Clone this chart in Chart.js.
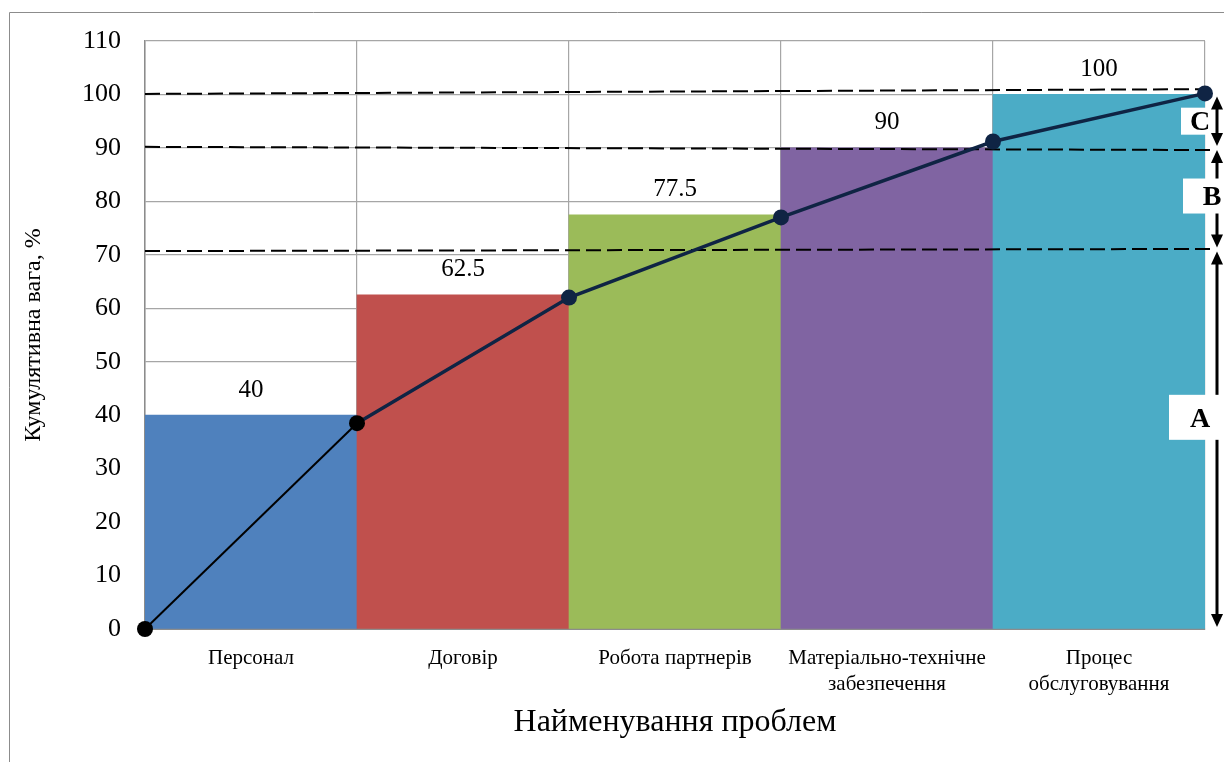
<!DOCTYPE html>
<html>
<head>
<meta charset="utf-8">
<script src="https://cdn.jsdelivr.net/npm/chart.js@4.4.1/dist/chart.umd.min.js"></script>
<style>
  body { margin: 0; background: #fff; }
</style>
</head>
<body>
<canvas id="pareto" width="1224" height="762"></canvas>
<script>
// categories and values
const categories = [
  'Персонал',
  'Договір',
  'Робота партнерів',
  ['Матеріально-технічне', 'забезпечення'],
  ['Процес', 'обслуговування']
];
const barValues = [40, 62.5, 77.5, 90, 100];
const barColors = ['#4F81BD', '#C0504D', '#9BBB59', '#8064A2', '#4BACC6'];

// cumulative curve, drawn at category boundaries 0..5
const curveX = [0, 1, 2, 3, 4, 5];
const curveY = [0, 38.5, 62, 77, 91.2, 100.2];

// hand drawn dashed borders of the A / B / C zones (start and end y)
const dashStartY = [100.1, 90.2, 70.7];
const dashEndY = [101, 89.6, 71.1];
const dashX = [0, 5.05];

// zones on the right side
const zoneTop = [100, 90, 71];
const zoneBottom = [90, 71, 0];
const zoneLabels = ['C', 'B', 'A'];
const zoneLabelY = [95, 81, 39.6];

const serif = "'Liberation Serif', 'DejaVu Serif', serif";

const framePlugin = {
  id: 'frame',
  beforeDraw(chart) {
    const ctx = chart.ctx;
    ctx.save();
    ctx.strokeStyle = '#8c8c8c';
    ctx.lineWidth = 1;
    ctx.beginPath();
    ctx.moveTo(9.5, 800);
    ctx.lineTo(9.5, 12.5);
    ctx.lineTo(1300, 12.5);
    ctx.stroke();
    ctx.restore();
  }
};

const valueLabels = {
  id: 'valueLabels',
  afterDatasetsDraw(chart) {
    const ctx = chart.ctx;
    const meta = chart.getDatasetMeta(0);
    ctx.save();
    ctx.font = '25px ' + serif;
    ctx.fillStyle = '#000';
    ctx.textAlign = 'center';
    ctx.textBaseline = 'middle';
    meta.data.forEach((bar, i) => {
      ctx.fillText(String(barValues[i]), bar.x, bar.y - 25);
    });
    ctx.restore();
  }
};

const zones = {
  id: 'zones',
  afterDraw(chart) {
    const ctx = chart.ctx;
    const y = chart.scales.y;
    const ax = 1217;
    ctx.save();
    ctx.fillStyle = '#000';
    ctx.strokeStyle = '#000';
    ctx.lineWidth = 3;
    zoneLabels.forEach((lab, i) => {
      const y0 = y.getPixelForValue(zoneTop[i]) + 2;
      const y1 = y.getPixelForValue(zoneBottom[i]) - 2;
      ctx.beginPath();
      ctx.moveTo(ax, y0 + 10);
      ctx.lineTo(ax, y1 - 10);
      ctx.stroke();
      // arrow heads
      ctx.beginPath();
      ctx.moveTo(ax, y0);
      ctx.lineTo(ax - 6, y0 + 13);
      ctx.lineTo(ax + 6, y0 + 13);
      ctx.closePath();
      ctx.fill();
      ctx.beginPath();
      ctx.moveTo(ax, y1);
      ctx.lineTo(ax - 6, y1 - 13);
      ctx.lineTo(ax + 6, y1 - 13);
      ctx.closePath();
      ctx.fill();
    });
    const boxes = [[1181, 30, 27], [1183, 41, 35], [1169, 55, 45]];
    ctx.font = 'bold 28px ' + serif;
    ctx.textAlign = 'center';
    ctx.textBaseline = 'middle';
    zoneLabels.forEach((lab, i) => {
      const cy = y.getPixelForValue(zoneLabelY[i]);
      const b = boxes[i];
      ctx.fillStyle = '#fff';
      ctx.fillRect(b[0], cy - b[2] / 2, b[1], b[2]);
      ctx.fillStyle = '#000';
      const tx = i === 1 ? 1212 : 1200;
      ctx.fillText(lab, tx, cy + 2);
    });
    ctx.restore();
  }
};

const dashSets = dashStartY.map((v, i) => ({
  type: 'line',
  xAxisID: 'x2',
  data: [{ x: dashX[0], y: v }, { x: dashX[1], y: dashEndY[i] }],
  borderColor: '#000',
  borderWidth: 2,
  borderDash: [15, 6],
  pointRadius: 0,
  clip: false,
  order: 1
}));

new Chart(document.getElementById('pareto'), {
  type: 'bar',
  data: {
    labels: categories,
    datasets: [
      {
        data: barValues,
        backgroundColor: barColors,
        barPercentage: 1,
        categoryPercentage: 1,
        grouped: false,
        order: 3
      },
      {
        type: 'line',
        xAxisID: 'x2',
        data: curveX.map((x, i) => ({ x: x, y: curveY[i] })),
        borderColor: '#0f2444',
        borderWidth: 3.5,
        segment: {
          borderColor: (c) => (c.p0DataIndex === 0 ? '#000' : '#0f2444'),
          borderWidth: (c) => (c.p0DataIndex === 0 ? 2 : 3.5)
        },
        pointRadius: 8,
        pointBackgroundColor: curveY.map((v, i) => (i < 2 ? '#000' : '#0f2444')),
        pointBorderWidth: 0,
        clip: false,
        order: 0
      },
      ...dashSets
    ]
  },
  options: {
    responsive: false,
    animation: false,
    devicePixelRatio: 1,
    layout: { padding: { left: 10, right: 19, top: 41, bottom: 8 } },
    plugins: {
      legend: { display: false },
      tooltip: { enabled: false }
    },
    scales: {
      x: {
        type: 'category',
        offset: true,
        grid: { offset: true, color: '#a6a6a6', lineWidth: 1.2, drawTicks: false },
        border: { color: '#8c8c8c', width: 2 },
        ticks: {
          color: '#000',
          font: { family: serif, size: 21, lineHeight: 1.25 },
          padding: 16,
          maxRotation: 0,
          autoSkip: false
        },
        title: {
          display: true,
          text: 'Найменування проблем',
          color: '#000',
          font: { family: serif, size: 32 },
          padding: { top: 10, bottom: 12 }
        },
        afterFit(scale) { scale.height = 125; }
      },
      x2: {
        type: 'linear',
        display: false,
        offset: false,
        grid: { offset: false },
        min: 0,
        max: 5
      },
      y: {
        min: 0,
        max: 110,
        ticks: {
          stepSize: 10,
          color: '#000',
          font: { family: serif, size: 26 },
          padding: 24
        },
        grid: { color: '#a6a6a6', lineWidth: 1.2, drawTicks: false },
        border: { color: '#8c8c8c', width: 1.5 },
        title: {
          display: true,
          text: 'Кумулятивна вага, %',
          color: '#000',
          font: { family: serif, size: 24 },
          padding: { top: 9, bottom: 0 }
        },
        afterFit(scale) { scale.width = 135; }
      }
    }
  },
  plugins: [framePlugin, valueLabels, zones]
});
</script>
</body>
</html>
